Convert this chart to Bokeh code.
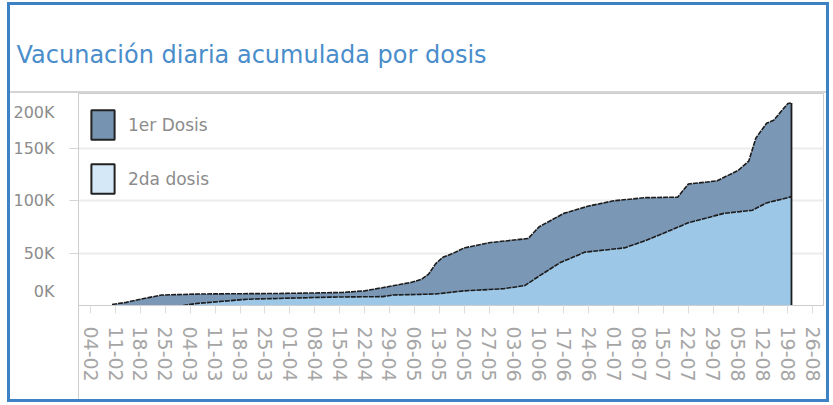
import pandas as pd
from bokeh.plotting import figure
from bokeh.models import (Range1d, FixedTicker, Legend, LegendItem)
from bokeh.embed import file_html
from bokeh.resources import INLINE

# ---------------- data ----------------
dose1_dates = ["2021-02-10", "2021-02-14", "2021-02-18", "2021-02-24", "2021-03-07", "2021-03-29",
               "2021-04-08", "2021-04-16", "2021-04-22", "2021-04-27", "2021-05-05", "2021-05-08",
               "2021-05-10", "2021-05-12", "2021-05-14", "2021-05-17", "2021-05-20", "2021-05-27",
               "2021-06-07", "2021-06-10", "2021-06-17", "2021-06-24", "2021-07-01", "2021-07-10",
               "2021-07-19", "2021-07-22", "2021-07-30", "2021-08-05", "2021-08-08", "2021-08-10",
               "2021-08-13", "2021-08-15", "2021-08-19", "2021-08-20"]
dose1_values = [1000, 3000, 6000, 10000, 11000, 11500,
                12000, 12500, 14000, 17000, 22000, 25000,
                30000, 40000, 46000, 50000, 55000, 60000,
                64000, 75000, 88000, 95000, 100000, 103000,
                103500, 116000, 119000, 129000, 138000, 160000,
                174000, 177000, 193000, 193500]

dose2_dates = ["2021-03-02", "2021-03-06", "2021-03-13", "2021-03-20", "2021-04-01", "2021-04-12",
               "2021-04-27", "2021-04-30", "2021-05-12", "2021-05-20", "2021-05-31", "2021-06-06",
               "2021-06-10", "2021-06-16", "2021-06-23", "2021-07-04", "2021-07-10", "2021-07-15",
               "2021-07-22", "2021-08-01", "2021-08-09", "2021-08-13", "2021-08-19", "2021-08-20"]
dose2_values = [0, 2000, 4000, 6000, 7000, 8000,
                8500, 10000, 11000, 14000, 16000, 19000,
                28000, 41000, 51000, 55000, 62000, 69000,
                79000, 88000, 91000, 98000, 103000, 104000]

series_names = ["1er Dosis", "2da dosis"]
x_tick_dates = list(pd.date_range("2021-02-04", "2021-08-26", freq="7D"))
x_tick_labels = [d.strftime("%d-%m") for d in x_tick_dates]
y_tick_values = [0, 50000, 100000, 150000, 200000]
y_tick_labels = ["0K", "50K", "100K", "150K", "200K"]
title_text = "Vacunación diaria acumulada por dosis"

# ---------------- style ----------------
DARK = "#7a97b6"
LIGHT = "#9dc7e7"
DARK_SW = "#7793b2"
LIGHT_SW = "#d4e8f7"
BLUE = "#3d82c4"
GRID = "#ececec"
AXIS = "#cdcdcd"
TXT = "#8c8c8c"
FONT = "DejaVu Sans"

W, H = 830, 404
FL, FT, FR, FB = 78, 93, 7, 99  # frame borders
frame_h = H - FT - FB

d1x = pd.to_datetime(dose1_dates)
d2x = pd.to_datetime(dose2_dates)

x_start = pd.Timestamp("2021-01-31 14:00")
x_end = pd.Timestamp("2021-08-29 00:00")
y_max = 202500

p = figure(width=W, height=H, x_axis_type="datetime", output_backend="svg",
           toolbar_location=None, x_range=Range1d(x_start, x_end), y_range=Range1d(0, y_max),
           min_border_left=FL, min_border_right=FR, min_border_top=FT, min_border_bottom=FB)
p.background_fill_color = "white"
p.border_fill_alpha = 0
p.outline_line_color = AXIS
p.outline_line_width = 1

# tile frame (blue border, separator under the title, left divider) drawn as CSS background
g = "linear-gradient({c},{c}) {x}px {y}px / {w}px {h}px no-repeat"
p.styles = {"background": ", ".join([
    g.format(c=BLUE, x=7, y=2, w=822, h=3),
    g.format(c=BLUE, x=7, y=399, w=822, h=3),
    g.format(c=BLUE, x=7, y=2, w=3, h=400),
    g.format(c=BLUE, x=826, y=2, w=3, h=400),
    g.format(c="#d4d4d4", x=10, y=91, w=816, h=2),
    g.format(c=AXIS, x=78, y=93, w=1, h=306),
    "white"])}

# title
p.title.text = title_text
p.title.text_font = FONT
p.title.text_font_size = "24px"
p.title.text_font_style = "normal"
p.title.text_color = "#4a8dcb"
p.title.align = "left"
p.title.offset = -62
p.title.standoff = 50

# areas (overlapping, not stacked)
p.varea(x=d1x, y1=0, y2=dose1_values, fill_color=DARK)
p.varea(x=d2x, y1=0, y2=dose2_values, fill_color=LIGHT)
p.line(x=d2x, y=dose2_values, line_color="#1c1c1c", line_width=1.6, line_dash="5 1")
p.line(x=d1x, y=dose1_values, line_color="#1c1c1c", line_width=1.6, line_dash="5 1")
p.segment(x0=[d1x[-1]], y0=[0], x1=[d1x[-1]], y1=[dose1_values[-1]],
          line_color="#1c1c1c", line_width=1.8)

# legend swatches: hidden patches of the same series, used only for the legend glyphs
r1 = p.patch(x=d1x, y=dose1_values, fill_color=DARK_SW, line_color="#222222",
             line_width=2, visible=False)
r2 = p.patch(x=d2x, y=dose2_values, fill_color=LIGHT_SW, line_color="#222222",
             line_width=2, visible=False)
legend = Legend(items=[LegendItem(label=series_names[0], renderers=[r1]),
                       LegendItem(label=series_names[1], renderers=[r2])],
                location=(10, frame_h - 13 - 91), orientation="vertical",
                glyph_width=29, glyph_height=37, spacing=17, padding=0, margin=0,
                label_standoff=11, label_text_font=FONT, label_text_font_size="17px",
                label_text_color=TXT, label_text_baseline="top",
                background_fill_alpha=0, border_line_alpha=0,
                inactive_fill_alpha=0, click_policy="none")
p.add_layout(legend)

# x axis
xa = p.xaxis[0]
xa.ticker = FixedTicker(ticks=[d.value / 1e6 for d in x_tick_dates])
xa.major_label_overrides = {d.value / 1e6: t for d, t in zip(x_tick_dates, x_tick_labels)}
xa.major_label_orientation = "vertical"
xa.major_label_text_font = FONT
xa.major_label_text_font_size = "19px"
xa.major_label_text_color = "#a6a6a6"
xa.major_tick_out = 8
xa.major_tick_in = 0
xa.major_tick_line_color = "#dddddd"
xa.minor_tick_line_color = None
xa.major_label_standoff = 13
xa.axis_line_color = AXIS

# y axis: end labels nudged inward as in the original
px_per_unit = frame_h / y_max
label_pos = list(y_tick_values)
label_pos[0] = y_tick_values[0] + 14 / px_per_unit
label_pos[-1] = y_tick_values[-1] - 16 / px_per_unit
ya = p.yaxis[0]
ya.ticker = FixedTicker(ticks=label_pos, minor_ticks=y_tick_values[1:-1])
ya.major_label_overrides = {v: t for v, t in zip(label_pos, y_tick_labels)}
ya.major_label_text_font = FONT
ya.major_label_text_font_size = "16px"
ya.major_label_text_color = TXT
ya.major_tick_line_color = None
ya.major_tick_out = 0
ya.minor_tick_out = 9
ya.minor_tick_in = 0
ya.minor_tick_line_color = "#d5d5d5"
ya.major_label_standoff = 15
ya.axis_line_color = AXIS

p.xgrid.grid_line_color = None
p.ygrid.ticker = FixedTicker(ticks=y_tick_values[1:-1])
p.ygrid.grid_line_color = GRID
p.ygrid.grid_line_width = 2

open("out.html", "w").write(file_html(p, INLINE))
